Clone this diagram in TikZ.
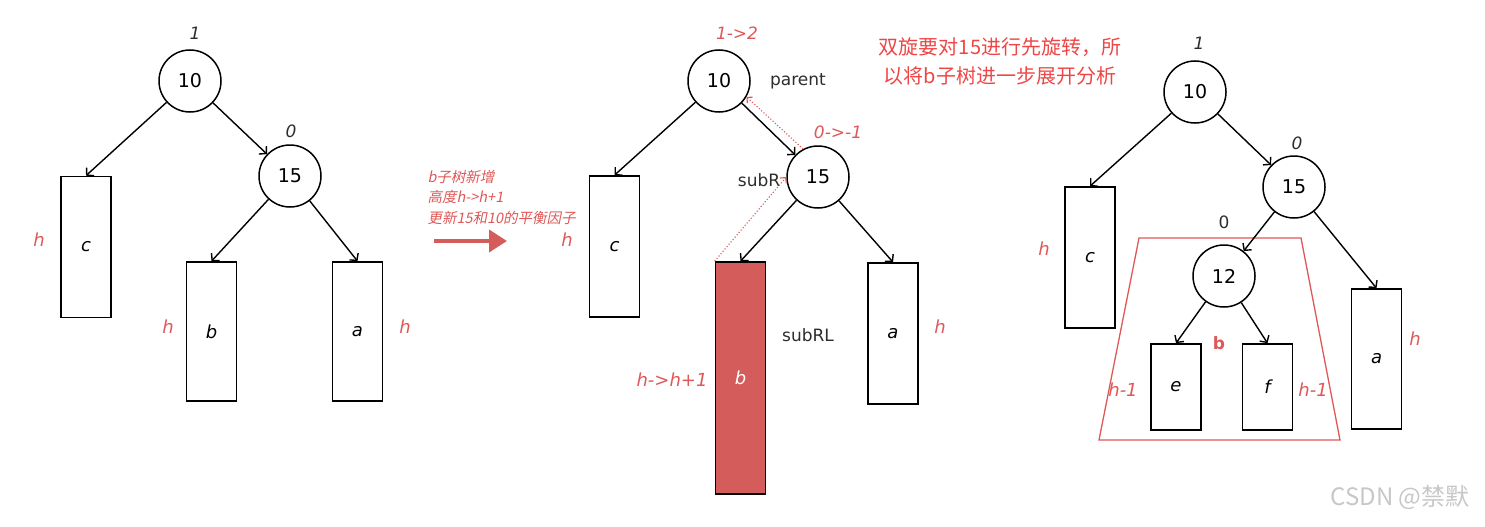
\documentclass[tikz,border=0pt]{standalone}
\usepackage{fontspec}
\setmainfont{DejaVu Sans}
\newfontfamily\cjk{Noto Sans CJK SC}
\newfontfamily\cjkslant[FakeSlant=0.2]{Noto Sans CJK SC}
\usepackage{tikz}
\usetikzlibrary{arrows.meta, positioning}
\definecolor{boxred}{RGB}{212,92,90}
\definecolor{notered}{RGB}{222,88,88}
\definecolor{tipred}{RGB}{238,70,70}
\definecolor{inkgray}{RGB}{45,45,45}

\begin{document}
\begin{tikzpicture}[
    x=1pt, y=-1pt,
    tree node/.style={circle,draw,line width=1.5pt,minimum size=62pt,inner sep=0pt,font=\fontsize{19}{20}\selectfont},
    sub box/.style={rectangle,draw,line width=1.7pt,minimum width=50pt,inner sep=0pt,font=\itshape\fontsize{18}{20}\selectfont},
    bf label/.style={font=\itshape\fontsize{17}{20}\selectfont,text=inkgray},
    bf change/.style={font=\itshape\fontsize{17}{20}\selectfont,text=notered},
    height label/.style={font=\itshape\fontsize{18}{20}\selectfont,text=notered},
    name label/.style={font=\fontsize{17}{20}\selectfont,text=inkgray},
    edge/.style={-{Straight Barb[length=5pt,width=11pt]},line width=1.4pt},
    trace/.style={-{Straight Barb[length=4pt,width=8pt]},dotted,line width=1.1pt,notered}
]
\useasboundingbox (0,0) rectangle (1485,527);

% left tree: before insertion
\node[tree node] (p10) at (190,81) {10};
\node[tree node] (p15) at (290,176) {15};
\node[sub box,minimum height=141pt] (pc) at (86,247) {c};
\node[sub box,minimum height=139pt] (pb) at (211.5,331.5) {b};
\node[sub box,minimum height=139pt] (pa) at (357.5,331.5) {a};
\node[bf label] (bf10) at (195,33) {1};
\node[bf label] (bf15) at (291,131) {0};
\node[height label] (hc) at (39,240) {h};
\node[height label] (hb) at (168,327) {h};
\node[height label] (ha) at (405,327) {h};

\draw[edge] (p10) -- (pc.north);
\draw[edge] (p10) -- (p15);
\draw[edge] (p15) -- (pb.north);
\draw[edge] (p15) -- (pa.north);

% note and big arrow
\node[anchor=west,align=left,text=notered,font=\cjkslant\fontsize{14.5}{20.5}\selectfont] (note) at (424,197)
    {b子树新增\\高度h->h+1\\更新15和10的平衡因子};
\coordinate (go from) at (434,241);
\coordinate (go to) at (507,241);
\draw[-{Triangle[length=18pt,width=22pt]},line width=4pt,boxred] (go from) -- (go to);

% middle tree: b grows
\node[tree node] (m10) at (719,81) {10};
\node[tree node] (m15) at (818,177) {15};
\node[sub box,minimum height=141pt] (mc) at (614.5,246.5) {c};
\node[sub box,minimum height=232pt,fill=boxred,text=white] (mb) at (740.5,378) {b};
\node[sub box,minimum height=141pt] (ma) at (893,333.5) {a};
\node[bf change] (ch10) at (737,33) {1->2};
\node[bf change] (ch15) at (838,132) {0->-1};
\node[name label] (parent) at (798,81) {parent};
\node[name label] (subR) at (759,180) {subR};
\node[name label] (subRL) at (808,335) {subRL};
\node[height label] (mhc) at (567,240) {h};
\node[height label] (mhb) at (672,380) {h->h+1};
\node[height label] (mha) at (940,327) {h};

\draw[edge] (m10) -- (mc.north);
\draw[edge] (m10) -- (m15);
\draw[edge] (m15) -- (mb.north);
\draw[edge] (m15) -- (ma.north);
\draw[trace] (m15.118) -- (m10.-30);
\draw[trace] (mb.north west) -- (m15.west);

% right tree: b opened up
\node[text=tipred,align=center,font=\cjk\fontsize{20}{29}\selectfont] (tip) at (1000,61)
    {双旋要对15进行先旋转，所\\以将b子树进一步展开分析};
\node[tree node] (r10) at (1195,92) {10};
\node[tree node] (r15) at (1294,187) {15};
\node[tree node] (r12) at (1224,276) {12};
\node[sub box,minimum height=141pt] (rc) at (1090,257.5) {c};
\node[sub box,minimum height=86pt] (re) at (1176,387) {e};
\node[sub box,minimum height=86pt] (rf) at (1267.5,387) {f};
\node[sub box,minimum height=140pt] (ra) at (1376.5,359) {a};
\node[bf label] (rbf10) at (1199,43) {1};
\node[bf label] (rbf15) at (1297,143) {0};
\node[font=\fontsize{17}{20}\selectfont,text=inkgray] (rbf12) at (1224,222) {0};
\node[height label] (rhc) at (1044,249) {h};
\node[height label] (rhe) at (1123,390) {h-1};
\node[height label] (rhf) at (1313,390) {h-1};
\node[height label] (rha) at (1415,339) {h};
\node[font=\bfseries\fontsize{17}{20}\selectfont,text=notered] (bname) at (1219,343) {b};
\draw[notered,line width=1.3pt] (1139,238) -- (1301,238) -- (1340,440) -- (1099,440) -- cycle;

\draw[edge] (r10) -- (rc.north);
\draw[edge] (r10) -- (r15);
\draw[edge] (r15) -- (r12);
\draw[edge] (r15) -- (ra.north);
\draw[edge] (r12) -- (re.north);
\draw[edge] (r12) -- (rf.north);

\node[text=black!22,font=\cjk\fontsize{24}{26}\selectfont] (mark) at (1400,497) {CSDN @禁默};
\end{tikzpicture}
\end{document}
